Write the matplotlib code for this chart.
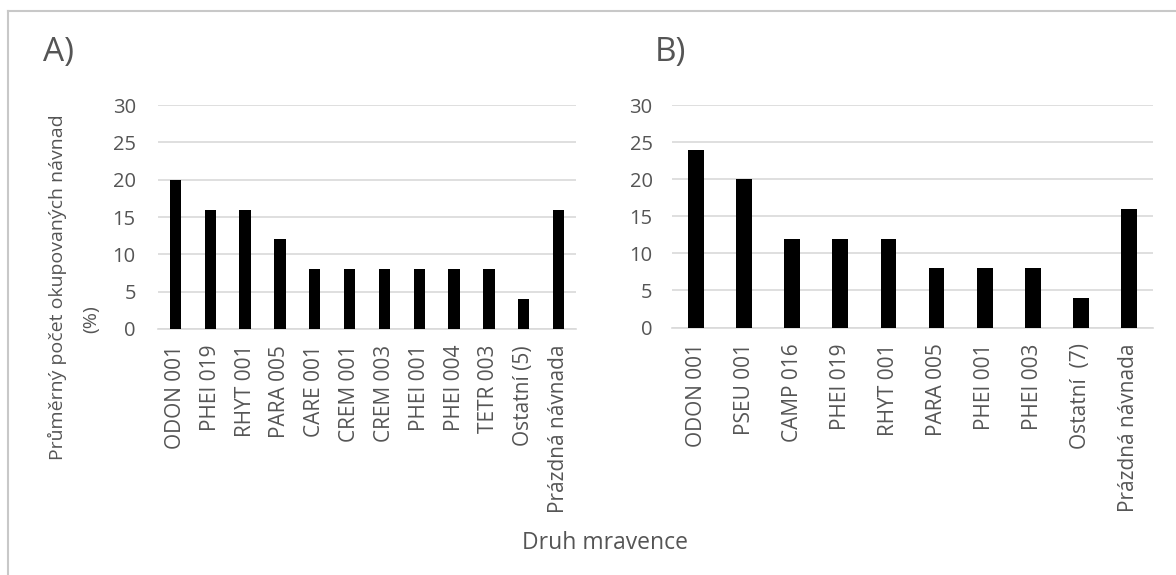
import matplotlib
matplotlib.use("Agg")
import matplotlib.pyplot as plt
from matplotlib.lines import Line2D

# Data
kat_a = ['ODON 001', 'PHEI 019', 'RHYT 001', 'PARA 005', 'CARE 001', 'CREM 001',
         'CREM 003', 'PHEI 001', 'PHEI 004', 'TETR 003', 'Ostatní (5)', 'Prázdná návnada']
hod_a = [20, 16, 16, 12, 8, 8, 8, 8, 8, 8, 4, 16]

kat_b = ['ODON 001', 'PSEU 001', 'CAMP 016', 'PHEI 019', 'RHYT 001', 'PARA 005',
         'PHEI 001', 'PHEI 003', 'Ostatní  (7)', 'Prázdná návnada']
hod_b = [24, 20, 12, 12, 12, 8, 8, 8, 4, 16]

y_ticks = [0, 5, 10, 15, 20, 25, 30]

plt.rcParams['font.family'] = ['Open Sans', 'DejaVu Sans']
seda = '#555555'

fig = plt.figure(figsize=(11.76, 5.75), dpi=100)
ax1 = fig.add_axes([158 / 1176, 1 - 329 / 575, 418 / 1176, 224 / 575])
ax2 = fig.add_axes([672 / 1176, 1 - 327.5 / 575, 481 / 1176, 222.5 / 575])


def kresli(ax, kat, hod, ypad):
    x = range(len(kat))
    ax.bar(x, hod, width=0.33, color='black', zorder=3)
    ax.set_xlim(-0.5, len(kat) - 0.5)
    ax.set_ylim(0, 30)
    ax.set_yticks(y_ticks)
    ax.set_xticks(list(x))
    ax.set_xticklabels(kat, rotation=90, fontsize=15, color=seda)
    ax.tick_params(axis='x', length=0, pad=11.5)
    ax.tick_params(axis='y', length=0, pad=ypad, labelsize=14.5, labelcolor=seda)
    ax.grid(axis='y', color='#d9d9d9', linewidth=1.2, zorder=0)
    for s in ['top', 'right', 'left']:
        ax.spines[s].set_visible(False)
    ax.spines['bottom'].set_color('#d9d9d9')
    ax.spines['bottom'].set_linewidth(1.2)


kresli(ax1, kat_a, hod_a, 16)
kresli(ax2, kat_b, hod_b, 14)

fig.text(43 / 1176, 1 - 52 / 575, 'A)', fontsize=24, color=seda, va='center', ha='left')
fig.text(655 / 1176, 1 - 52 / 575, 'B)', fontsize=24, color=seda, va='center', ha='left')

fig.text(57 / 1176, 1 - 287 / 575, 'Průměrný počet okupovaných návnad', rotation=90,
         fontsize=14, color=seda, va='center', ha='center')
fig.text(91 / 1176, 1 - 319 / 575, '(%)', rotation=90,
         fontsize=14, color=seda, va='center', ha='center')
fig.text(605 / 1176, 1 - 543 / 575, 'Druh mravence', fontsize=16.5, color=seda,
         va='center', ha='center')

# ramecek
fig.add_artist(Line2D([7.5 / 1176, 7.5 / 1176], [0, 1 - 10.5 / 575],
                      transform=fig.transFigure, color='#c8c8c8', linewidth=1.5))
fig.add_artist(Line2D([7.5 / 1176, 1], [1 - 10.5 / 575, 1 - 10.5 / 575],
                      transform=fig.transFigure, color='#c8c8c8', linewidth=1.5))

fig.savefig('out.png', dpi=100)
